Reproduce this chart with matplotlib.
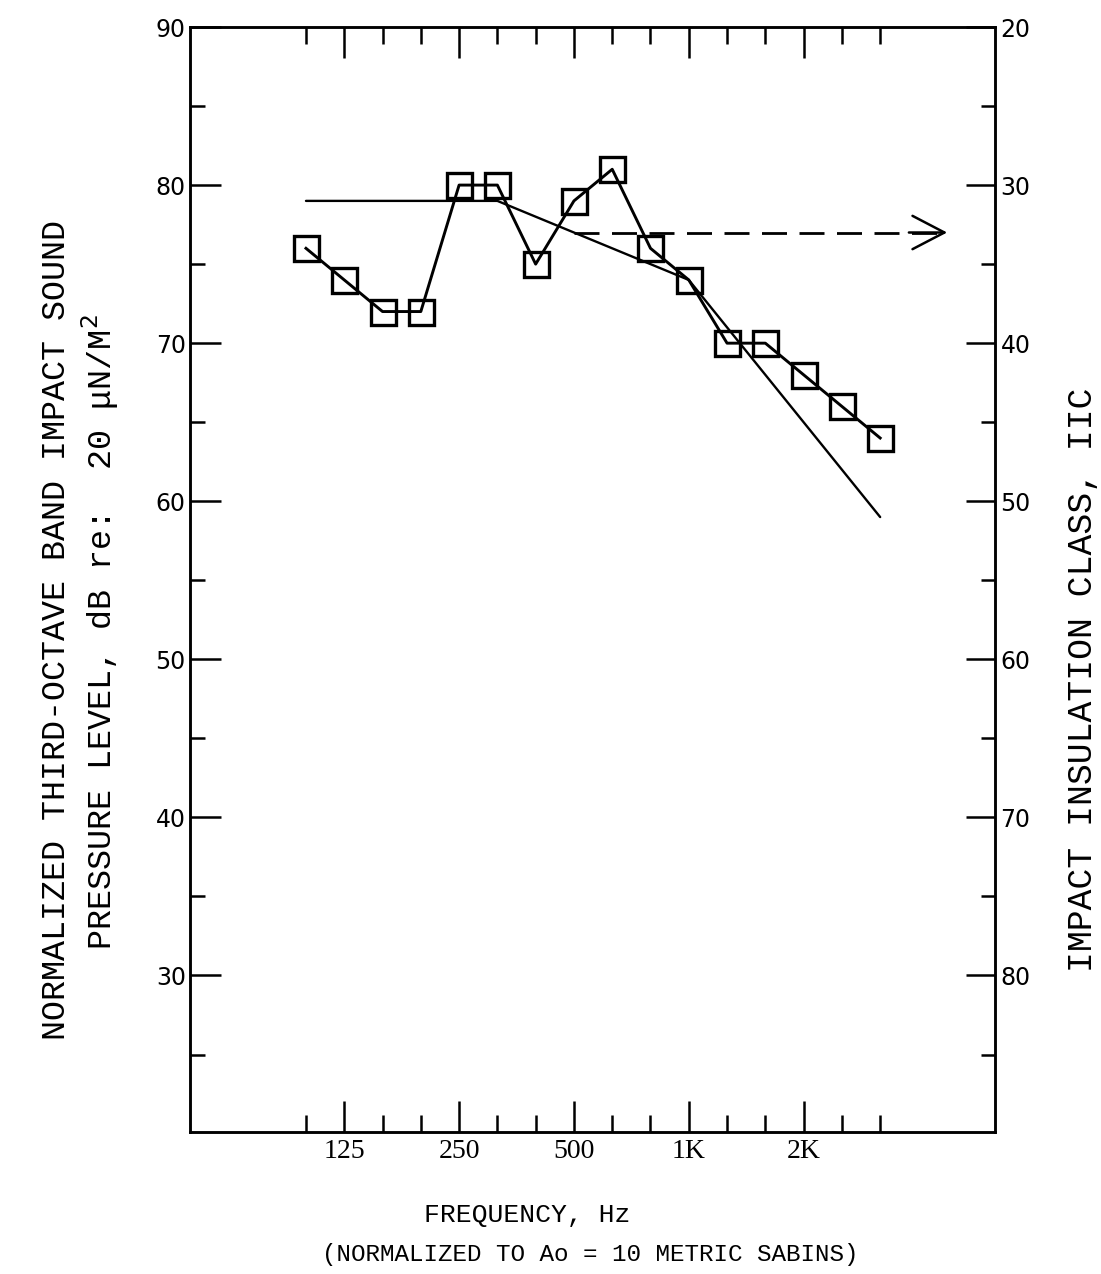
import matplotlib
matplotlib.use('Agg')
import matplotlib.pyplot as plt
from matplotlib.ticker import FixedLocator

# ---------------- data ----------------
bands = ['100', '125', '160', '200', '250', '315', '400', '500',
         '630', '800', '1K', '1250', '1600', '2K', '2500', '3150']
spl = [76, 74, 72, 72, 80, 80, 75, 79, 81, 76, 74, 70, 70, 68, 66, 64]
contour = [79, 79, 79, 79, 79, 79, 78, 77, 76, 75, 74, 71, 68, 65, 62, 59]
iic_level = 77          # contour level at 500 Hz (IIC = 110 - 77 = 33)
arrow_start_band = '500'
arrow_end_pos = 16.75
labeled_bands = ['125', '250', '500', '1K', '2K']
left_major = [30, 40, 50, 60, 70, 80, 90]
left_minor = [25, 35, 45, 55, 65, 75, 85]
right_major = [20, 30, 40, 50, 60, 70, 80]
right_minor = [25, 35, 45, 55, 65, 75, 85]

plt.rcParams['lines.scale_dashes'] = False
W, H = 1101, 1274
fig = plt.figure(figsize=(W / 100, H / 100), dpi=100)
fig.patch.set_facecolor('white')
ax = fig.add_axes([190 / W, 1 - 1132 / H, 805 / W, 1105 / H])

xpos = list(range(len(bands)))
ax.plot(xpos, contour, color='black', lw=1.7, solid_capstyle='round')
ax.plot(xpos, spl, color='black', lw=2.1, marker='s', ms=18, mfc='none',
        mec='black', mew=2.4)
i0 = bands.index(arrow_start_band)
ax.plot([i0, arrow_end_pos - 0.1], [iic_level, iic_level], color='black', lw=2.0,
        dashes=(18, 9))
ax.annotate('', xy=(arrow_end_pos, iic_level), xytext=(arrow_end_pos - 1.0, iic_level),
            arrowprops=dict(arrowstyle='->,head_length=2.3,head_width=1.2',
                            lw=1.8, color='black', shrinkA=0, shrinkB=0))

ax.set_xlim(-3.03, 18.0)
ax.set_ylim(20.1, 90)

major_idx = [bands.index(b) for b in labeled_bands]
minor_idx = [i for i in xpos if i not in major_idx]
ax.xaxis.set_major_locator(FixedLocator(major_idx))
ax.set_xticklabels(labeled_bands, family=['DejaVu Serif Condensed', 'Liberation Serif'],
                   fontsize=20)
ax.xaxis.set_minor_locator(FixedLocator(minor_idx))
ax.tick_params(axis='x', which='major', direction='in', length=22, width=1.8,
               top=True, bottom=True, pad=5)
ax.tick_params(axis='x', which='minor', direction='in', length=12, width=1.8,
               top=True, bottom=True)

ax.yaxis.set_major_locator(FixedLocator(left_major))
ax.yaxis.set_minor_locator(FixedLocator(left_minor))
ax.set_yticklabels([str(v) for v in left_major], fontsize=17, family='DejaVu Sans')
ax.tick_params(axis='y', which='major', direction='in', length=22, width=1.8, pad=3)
ax.tick_params(axis='y', which='minor', direction='in', length=11, width=1.8)

for s in ax.spines.values():
    s.set_linewidth(1.8)

ax2 = ax.twinx()
ax2.set_ylim(110 - 20.1, 110 - 90)
ax2.yaxis.set_major_locator(FixedLocator(right_major))
ax2.yaxis.set_minor_locator(FixedLocator(right_minor))
ax2.set_yticklabels([str(v) for v in right_major], fontsize=17, family='DejaVu Sans')
ax2.tick_params(axis='y', which='major', direction='in', length=21, width=1.8, pad=4)
ax2.tick_params(axis='y', which='minor', direction='in', length=10, width=1.8)
for s in ax2.spines.values():
    s.set_linewidth(1.8)

mono = ['Liberation Mono', 'DejaVu Sans Mono']
fig.text(57 / W, 1 - 630 / H, 'NORMALIZED THIRD-OCTAVE BAND IMPACT SOUND',
         rotation=90, ha='center', va='center', fontsize=24, family=mono)
fig.text(100 / W, 1 - 632 / H, 'PRESSURE LEVEL, dB re:  20 \u03bcN/M$^2$',
         rotation=90, ha='center', va='center', fontsize=24, family=mono)
fig.text(1082 / W, 1 - 680 / H, 'IMPACT INSULATION CLASS, IIC',
         rotation=90, ha='center', va='center', fontsize=25, family=mono)
fig.text(527 / W, 1 - 1215 / H, 'FREQUENCY, Hz', ha='center', va='center',
         fontsize=19, family=mono)
fig.text(590 / W, 1 - 1255 / H, '(NORMALIZED TO Ao = 10 METRIC SABINS)',
         ha='center', va='center', fontsize=17.5, family=mono)

fig.savefig('out.png', dpi=100, facecolor='white')
